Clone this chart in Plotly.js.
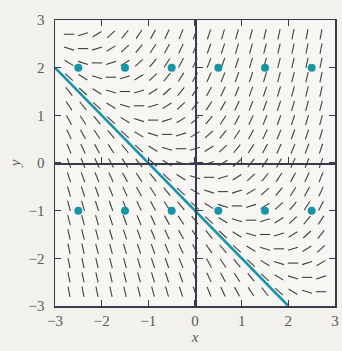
<!DOCTYPE html>
<html>
<head>
<meta charset="utf-8">
<script src="https://cdn.plot.ly/plotly-3.0.1.min.js"></script>
<style>html,body{margin:0;padding:0;background:#f3f1ec;}#chart{width:342px;height:351px;}</style>
</head>
<body>
<div id="chart"></div>
<script>
// Slope field for dy/dx = x + y
const gridX = [-2.7,-2.4,-2.1,-1.8,-1.5,-1.2,-0.9,-0.6,-0.3,0,0.3,0.6,0.9,1.2,1.5,1.8,2.1,2.4,2.7];
const gridY = [-2.7,-2.4,-2.1,-1.8,-1.5,-1.2,-0.9,-0.6,-0.3,0,0.3,0.6,0.9,1.2,1.5,1.8,2.1,2.4,2.7];
const lineX = [-3, 2];
const lineY = [2, -3];
const dotX = [-2.5, -1.5, -0.5, 0.5, 1.5, 2.5, -2.5, -1.5, -0.5, 0.5, 1.5, 2.5];
const dotY = [2, 2, 2, 2, 2, 2, -1, -1, -1, -1, -1, -1];
const tickVals = [-3, -2, -1, 0, 1, 2, 3];
const tickText = ['\u22123', '\u22122', '\u22121', '0', '1', '2', '3'];

function slope(x, y) { return x + y; }

const W = 342, H = 351;
const M = {l: 55, r: 7, t: 20, b: 45};
const sx = (W - M.l - M.r) / 6, sy = (H - M.t - M.b) / 6;
const half = 5.2;
const segX = [], segY = [];
gridX.forEach(x => {
  gridY.forEach(y => {
    const th = Math.atan(slope(x, y) * sy / sx);
    const dx = half * Math.cos(th) / sx, dy = half * Math.sin(th) / sy;
    segX.push(x - dx, x + dx, null);
    segY.push(y - dy, y + dy, null);
  });
});

const axisCol = '#3a3a4c';
const labelFont = {family: 'Liberation Serif, DejaVu Serif, serif', size: 15, color: '#5a5a5a'};

const traces = [
  {x: segX, y: segY, mode: 'lines', line: {color: '#404040', width: 1.1}, hoverinfo: 'skip', showlegend: false},
  {x: lineX, y: lineY, mode: 'lines', line: {color: '#1a93ad', width: 2.6}, showlegend: false},
  {x: dotX, y: dotY, mode: 'markers', marker: {color: '#1596a6', size: 8}, showlegend: false}
];

const layout = {
  width: W, height: H,
  margin: M,
  paper_bgcolor: '#f3f1ec',
  plot_bgcolor: '#f7f6f2',
  showlegend: false,
  xaxis: {
    range: [-3, 3], tickvals: tickVals, ticktext: tickText,
    showgrid: false, zeroline: false, showline: true, linecolor: axisCol, linewidth: 1.5,
    mirror: 'ticks', ticks: 'inside', ticklen: 6, tickcolor: axisCol, tickwidth: 1.3,
    tickfont: labelFont,
    title: {text: '<i>x</i>', font: labelFont, standoff: 2}
  },
  yaxis: {
    range: [-3, 3], tickvals: tickVals, ticktext: tickText,
    showgrid: false, zeroline: false, showline: true, linecolor: axisCol, linewidth: 1.5,
    mirror: 'ticks', ticks: 'inside', ticklen: 6, tickcolor: axisCol, tickwidth: 1.3,
    tickfont: labelFont, ticklabelstandoff: 6,
    title: {text: '<i>y</i>', font: labelFont, standoff: 4}
  },
  xaxis2: {
    range: [-3, 3], tickvals: tickVals, overlaying: 'x', anchor: 'free', position: 0.5,
    side: 'bottom', showticklabels: false, showgrid: false, zeroline: false,
    showline: true, linecolor: axisCol, linewidth: 1.5,
    ticks: 'inside', ticklen: 6, tickcolor: axisCol, tickwidth: 1.3
  },
  yaxis2: {
    range: [-3, 3], tickvals: tickVals, overlaying: 'y', anchor: 'free', position: 0.5,
    side: 'left', showticklabels: false, showgrid: false, zeroline: false,
    showline: true, linecolor: axisCol, linewidth: 1.5,
    ticks: 'inside', ticklen: 6, tickcolor: axisCol, tickwidth: 1.3
  }
};

// dummy trace to activate overlay axes
traces.push({x: [null], y: [null], xaxis: 'x2', yaxis: 'y2', mode: 'markers', showlegend: false, hoverinfo: 'skip'});

Plotly.newPlot('chart', traces, layout, {displayModeBar: false, staticPlot: true});
</script>
</body>
</html>
